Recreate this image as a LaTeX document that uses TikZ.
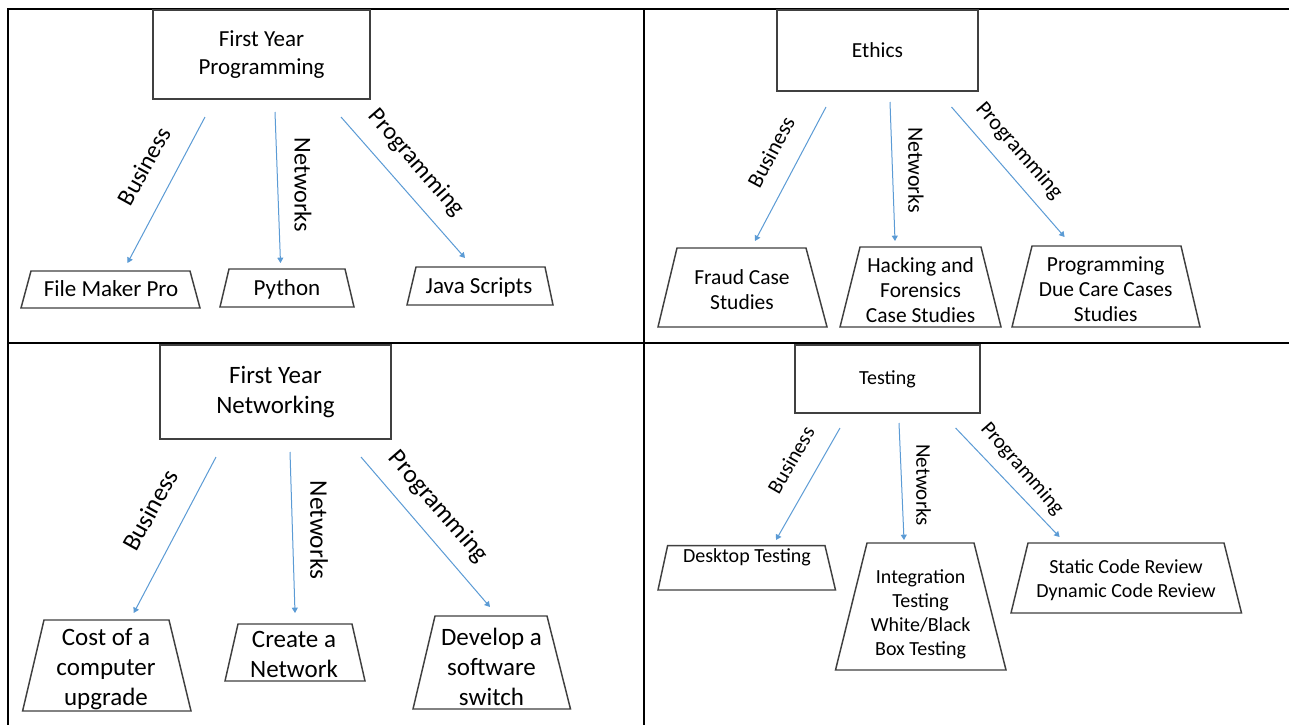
\documentclass[tikz,border=0pt]{standalone}
\usepackage{fontspec}
\setmainfont{Carlito}
\usetikzlibrary{arrows.meta,calc}
\definecolor{arrowblue}{HTML}{5B9BD5}
\definecolor{boxgray}{HTML}{404040}
\newcommand{\fqa}{\fontsize{17.25pt}{21pt}\selectfont}
\newcommand{\fqalbl}{\fontsize{18.2pt}{22pt}\selectfont}
\newcommand{\fqb}{\fontsize{16.1pt}{18.75pt}\selectfont}
\newcommand{\fqblbl}{\fontsize{16.5pt}{20pt}\selectfont}
\newcommand{\fqc}{\fontsize{18.75pt}{22.5pt}\selectfont}
\newcommand{\fqclbl}{\fontsize{19pt}{23pt}\selectfont}
\newcommand{\fqd}{\fontsize{15pt}{18pt}\selectfont}
\newcommand{\fqdlbl}{\fontsize{15.75pt}{19pt}\selectfont}
% trapezoid: topL topR botL botR ytop ybot
\newcommand{\trapz}[6]{\draw[trapline] (#3,#6) -- (#1,#5) -- (#2,#5) -- (#4,#6) -- cycle;}
\begin{document}
\begin{tikzpicture}[x=0.75pt,y=-0.75pt,
  gridline/.style={line width=1.6pt,black},
  topbox/.style={draw=boxgray,line width=1.1pt,align=center,inner sep=0pt},
  trapline/.style={draw=boxgray,line width=1.1pt,line join=miter},
  traptext/.style={align=center,inner sep=0pt},
  lbl/.style={inner sep=0pt},
  conn/.style={draw=arrowblue,line width=0.75pt,-{Triangle[length=4pt,width=4.5pt]}}]
\useasboundingbox (0,0) rectangle (1289,725);
\fill[white] (0,0) rectangle (1289,725);

% grid
\draw[gridline] (7,9) -- (1289,9);
\draw[gridline] (8,9) -- (8,725);
\draw[gridline] (644,9) -- (644,725);
\draw[gridline] (7,343) -- (1289,343);

% ---------------- Quadrant 1
\node[topbox,minimum width=162.75pt,minimum height=66.75pt,font=\fqa] (fyp) at (261.5,54.5) {First Year\\Programming};
\trapz{31}{190}{21}{200}{271}{308}
\trapz{229}{345}{220}{354}{269}{307}
\trapz{416}{545}{407}{553}{267}{305}
\node[traptext,font=\fqa] (fmp) at (111,289) {File Maker Pro};
\node[traptext,font=\fqa] (py) at (287,289) {Python};
\node[traptext,font=\fqa] (js) at (479,287) {Java Scripts};
\coordinate (qabs) at (205,117); \coordinate (qabe) at (127.5,263);
\coordinate (qans) at (275,112); \coordinate (qane) at (280.5,263);
\coordinate (qaps) at (341,117); \coordinate (qape) at (465,258);
\draw[conn] (qabs) -- (qabe);
\draw[conn] (qans) -- (qane);
\draw[conn] (qaps) -- (qape);
\node[lbl,font=\fqalbl,rotate=61] (qabl) at (144,166) {Business};
\node[lbl,font=\fqalbl,rotate=-90] (qanl) at (303,185) {Networks};
\node[lbl,font=\fqalbl,rotate=-49] (qapl) at (416,163) {Programming};

% ---------------- Quadrant 2
\node[topbox,minimum width=150.75pt,minimum height=60.75pt,font=\fqb] (eth) at (877.5,50.5) {Ethics};
\trapz{677}{806}{658}{827}{248}{327}
\trapz{860}{981}{840}{1001}{247}{327}
\trapz{1032}{1181}{1012}{1200}{246}{327}
\node[traptext,font=\fqb] (fraud) at (742,290) {Fraud Case\\Studies};
\node[traptext,font=\fqb] (hack) at (920.6,290) {Hacking and\\Forensics\\Case Studies};
\node[traptext,font=\fqb] (pdc) at (1105.7,289) {Programming\\Due Care Cases\\Studies};
\coordinate (qbbs) at (826,107); \coordinate (qbbe) at (755,241);
\coordinate (qbns) at (890,102); \coordinate (qbne) at (895,241);
\coordinate (qbps) at (951.5,107); \coordinate (qbpe) at (1064.6,237);
\draw[conn] (qbbs) -- (qbbe);
\draw[conn] (qbns) -- (qbne);
\draw[conn] (qbps) -- (qbpe);
\node[lbl,font=\fqblbl,rotate=62] (qbbl) at (771,152) {Business};
\node[lbl,font=\fqblbl,rotate=-90] (qbnl) at (916,170) {Networks};
\node[lbl,font=\fqblbl,rotate=-49] (qbpl) at (1019,151) {Programming};

% ---------------- Quadrant 3
\node[topbox,minimum width=173.25pt,minimum height=70.5pt,font=\fqc] (fyn) at (275.5,392) {First Year\\Networking};
\trapz{44}{169}{22.6}{191}{620}{711}
\trapz{238}{352}{225}{365}{624}{681}
\trapz{435}{547}{413}{570.5}{616}{709}
\node[traptext,font=\fqc] (cost) at (106,669) {Cost of a\\computer\\upgrade};
\node[traptext,font=\fqc] (create) at (294,654) {Create a\\Network};
\node[traptext,font=\fqc] (dev) at (491.5,667) {Develop a\\software\\switch};
\coordinate (qcbs) at (216,457); \coordinate (qcbe) at (133.7,613);
\coordinate (qcns) at (290,452); \coordinate (qcne) at (295,613);
\coordinate (qcps) at (361,457); \coordinate (qcpe) at (490,607);
\draw[conn] (qcbs) -- (qcbe);
\draw[conn] (qcns) -- (qcne);
\draw[conn] (qcps) -- (qcpe);
\node[lbl,font=\fqclbl,rotate=61] (qcbl) at (150,510) {Business};
\node[lbl,font=\fqclbl,rotate=-90] (qcnl) at (319,530) {Networks};
\node[lbl,font=\fqclbl,rotate=-49] (qcpl) at (438,507) {Programming};

% ---------------- Quadrant 4
\node[topbox,minimum width=138.75pt,minimum height=51pt,font=\fqd] (test) at (887.5,379) {Testing};
\trapz{667.6}{825}{658}{835.5}{545.7}{590}
\trapz{867}{974}{835.5}{1006}{543}{670}
\trapz{1028}{1224}{1011}{1241.5}{543}{613}
\node[traptext,font=\fqd] (desk) at (747,557) {Desktop Testing};
\node[traptext,font=\fqd] (integ) at (920.6,614) {Integration\\Testing\\White/Black\\Box Testing};
\node[traptext,font=\fqd] (static) at (1126,580) {Static Code Review\\Dynamic Code Review};
\coordinate (qdbs) at (840,428); \coordinate (qdbe) at (776,540);
\coordinate (qdns) at (899,423); \coordinate (qdne) at (904,540);
\coordinate (qdps) at (955.6,428); \coordinate (qdpe) at (1059.6,537);
\draw[conn] (qdbs) -- (qdbe);
\draw[conn] (qdns) -- (qdne);
\draw[conn] (qdps) -- (qdpe);
\node[lbl,font=\fqdlbl,rotate=60] (qdbl) at (791,460) {Business};
\node[lbl,font=\fqdlbl,rotate=-90] (qdnl) at (923.5,485) {Networks};
\node[lbl,font=\fqdlbl,rotate=-49] (qdpl) at (1022,469) {Programming};
\end{tikzpicture}
\end{document}
